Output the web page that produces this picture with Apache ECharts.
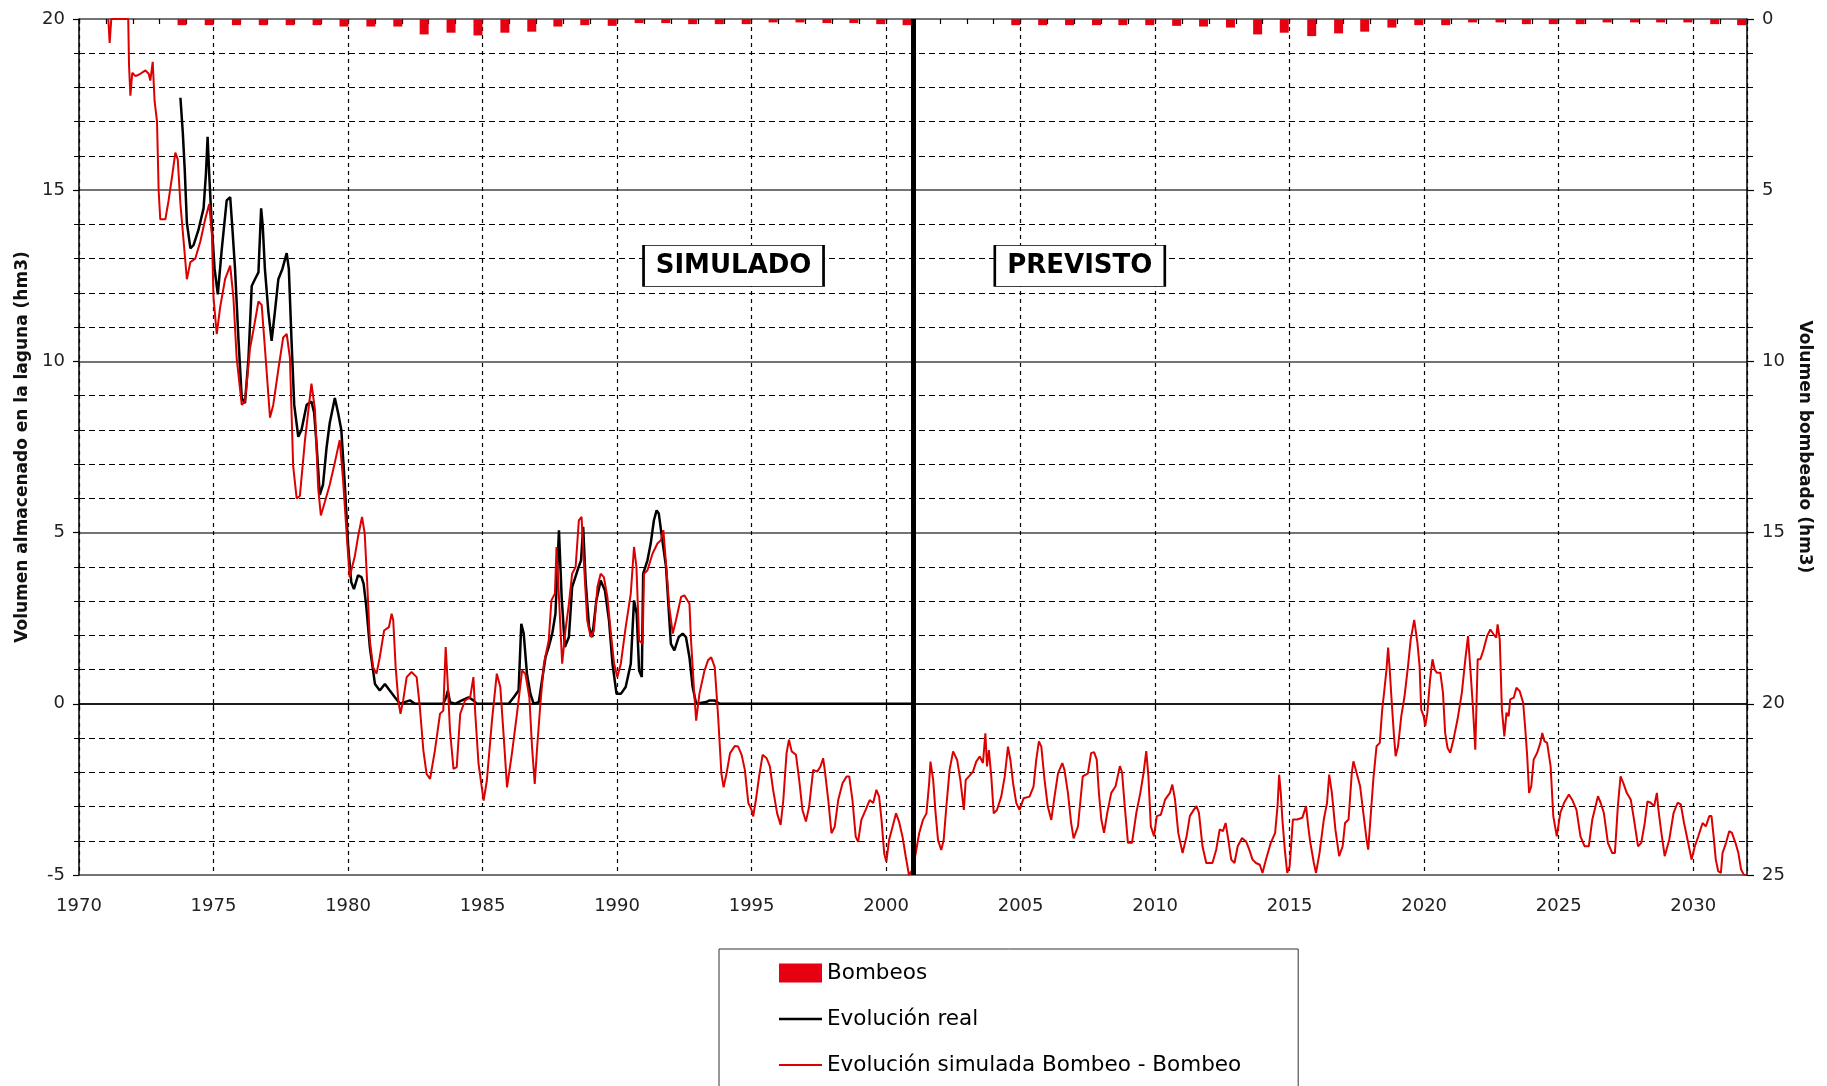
<!DOCTYPE html>
<html>
<head>
<meta charset="utf-8">
<script src="https://cdn.jsdelivr.net/npm/echarts@6/dist/echarts.min.js"></script>
<style>
html,body{margin:0;padding:0;background:#fff;}
#chart{width:1827px;height:1086px;}
</style>
</head>
<body>
<div id="chart"></div>
<script>
// ---- Data ----
const xTickLabels = [1970,1975,1980,1985,1990,1995,2000,2005,2010,2015,2020,2025,2030];
const leftTicks = [-5,0,5,10,15,20];
const rightTicks = [0,5,10,15,20,25];

// Simulated evolution (red), decimal year / hm3
const simYears = [
1971.09,1971.14,1971.2,1971.83,1971.86,1971.91,1971.98,1972.1,1972.28,1972.47,1972.59,1972.65,1972.74,1972.81,1972.9,1972.96,
1973.02,1973.21,1973.33,1973.46,1973.58,1973.67,1973.77,1973.89,1974.01,1974.14,1974.32,1974.51,1974.69,1974.84,1974.94,
1975.0,1975.12,1975.25,1975.43,1975.62,1975.74,1975.86,1976.05,1976.17,1976.36,1976.48,1976.67,1976.79,1976.91,
1977.1,1977.22,1977.41,1977.59,1977.72,1977.84,1977.96,1978.09,1978.21,1978.4,1978.64,1978.77,1978.89,1978.99,
1979.14,1979.32,1979.51,1979.69,1979.81,1979.94,1980.06,1980.25,1980.37,1980.52,1980.62,1980.72,1980.81,1980.93,
1981.06,1981.18,1981.34,1981.52,1981.62,1981.68,1981.77,1981.87,1981.95,1982.05,1982.18,1982.36,1982.55,1982.67,1982.8,1982.92,
1983.05,1983.23,1983.42,1983.54,1983.63,1983.7,1983.79,1983.92,1984.04,1984.17,1984.35,1984.54,1984.66,1984.73,1984.85,
1985.04,1985.16,1985.35,1985.53,1985.66,1985.78,1985.91,1986.09,1986.28,1986.47,1986.59,1986.74,1986.84,1986.94,
1987.03,1987.15,1987.28,1987.46,1987.56,1987.69,1987.75,1987.84,1987.96,1988.08,1988.21,1988.33,1988.46,1988.58,1988.68,1988.77,1988.89,
1989.02,1989.14,1989.27,1989.39,1989.51,1989.64,1989.76,1989.89,1990.01,1990.14,1990.32,1990.51,1990.63,1990.72,1990.82,1990.95,
1991.0,1991.13,1991.32,1991.5,1991.63,1991.72,1991.82,1991.94,1992.07,1992.19,1992.38,1992.5,1992.69,1992.75,1992.87,1992.94,
1993.06,1993.25,1993.38,1993.5,1993.63,1993.75,1993.88,1993.96,1994.07,1994.2,1994.38,1994.5,1994.63,1994.75,1994.88,
1995.0,1995.06,1995.16,1995.28,1995.41,1995.56,1995.68,1995.8,1995.95,1996.08,1996.18,1996.3,1996.39,1996.49,1996.65,1996.77,1996.89,
1997.02,1997.14,1997.29,1997.44,1997.56,1997.66,1997.72,1997.85,1997.97,1998.09,1998.22,1998.38,1998.53,1998.63,1998.75,1998.87,1998.96,
1999.08,1999.24,1999.39,1999.52,1999.64,1999.74,1999.83,1999.93,2000.01,2000.11,2000.24,2000.37,2000.48,2000.61,2000.73,2000.85,2000.98,
2001.1,2001.23,2001.37,2001.5,2001.6,2001.65,2001.75,2001.84,2001.93,2002.05,2002.14,2002.24,2002.36,2002.49,2002.64,2002.76,2002.89,2002.96,
2003.08,2003.23,2003.35,2003.48,2003.6,2003.69,2003.75,2003.82,2003.91,2004.0,2004.12,2004.28,2004.41,2004.53,2004.62,2004.72,2004.84,2004.96,
2005.11,2005.33,2005.48,2005.58,2005.68,2005.77,2005.89,2006.01,2006.14,2006.26,2006.39,2006.55,2006.63,2006.76,2006.88,2006.97,
2007.13,2007.31,2007.5,2007.62,2007.73,2007.83,2007.91,2008.0,2008.1,2008.22,2008.37,2008.53,2008.69,2008.77,2008.87,2008.99,
2009.14,2009.3,2009.45,2009.57,2009.67,2009.75,2009.84,2009.96,2010.06,2010.21,2010.37,2010.55,2010.64,2010.74,2010.86,
2011.02,2011.17,2011.29,2011.44,2011.54,2011.63,2011.76,2011.9,2012.13,2012.27,2012.4,2012.52,2012.62,2012.7,2012.83,2012.95,
2013.07,2013.23,2013.38,2013.5,2013.62,2013.75,2013.89,2013.99,2014.12,2014.3,2014.46,2014.55,2014.61,2014.67,2014.73,2014.82,2014.91,
2015.0,2015.12,2015.28,2015.47,2015.61,2015.69,2015.77,2015.9,2015.98,2016.11,2016.27,2016.39,2016.47,2016.57,2016.7,2016.84,2016.97,
2017.06,2017.19,2017.31,2017.37,2017.49,2017.62,2017.74,2017.86,2017.92,2018.02,2018.11,2018.23,2018.35,2018.44,2018.51,2018.6,2018.66,2018.72,2018.78,2018.88,2018.94,
2019.03,2019.15,2019.27,2019.4,2019.5,2019.63,2019.75,2019.83,2019.89,2019.98,2020.04,2020.12,2020.22,2020.31,2020.39,2020.47,2020.6,2020.7,2020.78,2020.87,2020.97,
2021.09,2021.24,2021.4,2021.53,2021.63,2021.71,2021.81,2021.9,2021.99,2022.09,2022.21,2022.34,2022.46,2022.58,2022.68,2022.73,2022.81,2022.89,2022.98,
2023.06,2023.14,2023.2,2023.33,2023.43,2023.55,2023.68,2023.76,2023.83,2023.9,2023.98,2024.07,2024.2,2024.32,2024.39,2024.47,2024.57,2024.7,2024.8,2024.93,
2025.06,2025.2,2025.38,2025.5,2025.66,2025.81,2025.96,2026.12,2026.25,2026.37,2026.46,2026.56,2026.68,2026.83,2026.99,
2027.09,2027.2,2027.3,2027.4,2027.53,2027.68,2027.8,2027.95,2028.07,2028.2,2028.3,2028.42,2028.55,2028.65,2028.7,2028.8,2028.94,
2029.11,2029.27,2029.42,2029.54,2029.66,2029.79,2029.94,2030.06,2030.19,2030.35,2030.47,2030.6,2030.68,2030.76,2030.84,2030.93,
2031.03,2031.09,2031.22,2031.34,2031.44,2031.57,2031.68,2031.78,2031.88,2031.97];
const simVals = [
20,19.3,20,20,18.64,17.76,18.43,18.33,18.4,18.5,18.4,18.2,18.75,17.6,17.0,15.0,
14.15,14.15,14.7,15.4,16.1,15.9,14.6,13.5,12.4,12.9,13.0,13.5,14.15,14.6,13.7,
11.86,10.8,11.6,12.4,12.8,11.86,10.1,8.73,8.83,10.4,10.9,11.75,11.65,10.4,
8.36,8.73,9.77,10.7,10.8,10.1,6.95,6.0,6.07,7.7,9.35,8.6,6.3,5.5,
5.9,6.4,7.05,7.7,6.6,5.07,3.7,4.3,4.87,5.46,4.97,3.41,1.85,1.07,
0.88,1.36,2.14,2.24,2.63,2.44,1.07,0.1,-0.29,0.1,0.78,0.93,0.78,-0.1,-1.36,-2.05,
-2.19,-1.36,-0.29,-0.2,1.66,0.68,-0.78,-1.9,-1.85,-0.29,0.1,0.19,0.78,-0.29,-1.75,
-2.83,-2.24,-0.49,0.88,0.49,-0.88,-2.44,-1.46,-0.29,0.97,0.88,0.19,-1.27,-2.34,
-1.27,0,1.17,1.85,3.02,3.22,4.58,3.12,1.17,2.14,2.92,3.8,4.0,5.36,5.46,4.09,2.44,
1.95,2.14,3.41,3.8,3.7,3.12,2.14,1.17,0.78,1.17,2.24,3.22,4.58,4.0,1.85,1.75,
3.8,3.9,4.39,4.68,4.78,5.07,4.09,2.83,2.05,2.44,3.12,3.17,2.92,1.85,0.29,-0.49,
0.29,0.97,1.27,1.36,1.07,-0.29,-2.05,-2.44,-2.03,-1.44,-1.23,-1.25,-1.49,-1.93,-2.9,
-3.1,-3.29,-2.81,-2.12,-1.49,-1.59,-1.83,-2.51,-3.2,-3.54,-2.81,-1.44,-1.05,-1.39,-1.49,-2.22,-3.1,
-3.44,-3.0,-1.93,-1.98,-1.83,-1.59,-1.93,-2.81,-3.78,-3.59,-2.81,-2.32,-2.12,-2.12,-2.81,-3.88,-4.03,
-3.39,-3.1,-2.81,-2.9,-2.51,-2.71,-3.39,-4.37,-4.61,-3.98,-3.59,-3.2,-3.44,-3.88,-4.46,-5.0,-4.85,
-4.37,-3.78,-3.39,-3.2,-2.32,-1.69,-2.22,-3.2,-3.98,-4.27,-3.98,-3.0,-1.93,-1.39,-1.64,-2.22,-3.1,-2.22,
-2.12,-1.98,-1.69,-1.54,-1.73,-0.86,-1.83,-1.35,-2.12,-3.2,-3.1,-2.71,-2.12,-1.25,-1.64,-2.32,-2.9,-3.1,
-2.76,-2.71,-2.42,-1.64,-1.1,-1.25,-2.22,-3.0,-3.39,-2.71,-2.03,-1.73,-1.93,-2.61,-3.49,-3.93,
-3.59,-2.12,-2.03,-1.44,-1.41,-1.63,-2.6,-3.38,-3.77,-3.19,-2.6,-2.41,-1.82,-2.0,-2.99,-4.06,
-4.06,-3.19,-2.6,-2.02,-1.38,-2.12,-3.58,-3.87,-3.28,-3.24,-2.8,-2.6,-2.36,-2.8,-3.77,
-4.36,-3.87,-3.28,-3.09,-2.99,-3.19,-4.16,-4.65,-4.65,-4.26,-3.67,-3.72,-3.48,-3.87,-4.55,-4.65,
-4.16,-3.92,-4.02,-4.26,-4.55,-4.65,-4.7,-4.94,-4.55,-4.06,-3.77,-2.99,-2.07,-2.6,-3.38,-4.26,-4.94,
-4.75,-3.38,-3.38,-3.33,-2.99,-3.58,-4.06,-4.65,-4.94,-4.36,-3.38,-2.89,-2.07,-2.6,-3.67,-4.45,-4.16,
-3.48,-3.38,-2.02,-1.68,-2.02,-2.41,-3.19,-3.97,-4.26,-3.19,-2.21,-1.24,-1.14,-0.17,0.32,1.0,1.64,1.0,0.22,-0.95,-1.53,
-1.24,-0.36,0.22,1.1,1.88,2.45,1.78,1.1,-0.17,-0.36,-0.65,-0.26,0.71,1.3,1.0,0.91,0.91,0.32,-0.85,-1.29,-1.43,
-1.04,-0.46,0.32,1.3,1.98,1.1,-0.07,-1.34,1.3,1.3,1.59,1.98,2.17,2.03,1.93,2.32,1.88,-0.17,-0.95,
-0.26,-0.36,0.13,0.18,0.47,0.37,0.03,-0.75,-1.53,-2.6,-2.41,-1.63,-1.43,-1.14,-0.85,-1.09,-1.14,-1.82,-3.28,-3.87,
-3.19,-2.89,-2.65,-2.8,-3.09,-3.87,-4.16,-4.16,-3.38,-2.99,-2.7,-2.89,-3.19,-4.06,-4.36,
-4.36,-2.99,-2.12,-2.31,-2.6,-2.8,-3.38,-4.16,-4.06,-3.48,-2.85,-2.89,-2.99,-2.6,-3.04,-3.67,-4.45,
-3.97,-3.19,-2.89,-2.94,-3.48,-3.97,-4.55,-4.16,-3.87,-3.48,-3.58,-3.28,-3.28,-3.87,-4.55,-4.89,
-4.94,-4.36,-4.06,-3.72,-3.77,-4.06,-4.36,-4.84,-4.99,-5.0];

// Real evolution (black)
const realYears = [
1973.77,1973.86,1973.93,1974.01,1974.14,1974.26,1974.44,1974.63,1974.72,1974.78,1974.85,1974.94,
1975.04,1975.16,1975.31,1975.49,1975.62,1975.7,1975.8,1975.93,1976.05,1976.17,1976.3,1976.42,1976.54,1976.67,1976.77,1976.83,1976.91,
1977.04,1977.16,1977.28,1977.41,1977.56,1977.72,1977.8,1977.9,1978.0,1978.15,1978.27,1978.46,1978.64,1978.74,1978.83,1978.95,
1979.07,1979.2,1979.32,1979.51,1979.63,1979.75,1979.88,1980.0,1980.12,1980.22,1980.37,1980.5,1980.58,1980.68,1980.81,
1981.0,1981.18,1981.37,1981.55,1981.74,1981.93,1982.11,1982.3,1982.49,1983.54,1983.65,1983.71,1983.79,1983.98,
1984.23,1984.48,1984.66,1984.79,1985.97,1986.16,1986.34,1986.44,1986.53,1986.65,1986.78,1986.9,
1987.09,1987.21,1987.34,1987.46,1987.59,1987.71,1987.84,1987.94,1988.06,1988.21,1988.33,1988.53,1988.66,1988.74,1988.83,1988.96,
1989.08,1989.23,1989.39,1989.55,1989.7,1989.83,1989.98,1990.14,1990.32,1990.51,1990.63,1990.73,1990.82,1990.92,1990.97,
1991.13,1991.25,1991.37,1991.47,1991.55,1991.65,1991.82,1992.0,1992.13,1992.29,1992.44,1992.56,1992.69,1992.81,1992.94,
1993.31,1993.44,1993.62,1993.81,2001.0];
const realVals = [
17.7,16.66,15.6,14.05,13.3,13.4,13.84,14.47,15.5,16.56,15.3,13.9,
12.7,11.96,13.3,14.7,14.8,13.9,12.7,10.6,8.93,8.78,10.1,12.2,12.4,12.6,14.47,13.95,12.7,
11.44,10.6,11.44,12.4,12.7,13.16,12.7,10.6,8.73,7.8,8.0,8.73,8.83,8.5,7.58,6.1,
6.4,7.47,8.2,8.93,8.5,8.0,6.4,4.66,3.55,3.35,3.75,3.7,3.5,2.83,1.66,
0.58,0.39,0.58,0.39,0.19,0.0,0.05,0.1,0.0,0.0,0.2,0.39,0.05,0.0,
0.1,0.19,0.1,0.0,0.0,0.19,0.39,2.34,2.05,0.88,0.29,0.0,
0.05,0.68,1.36,1.66,2.05,2.63,5.07,3.12,1.66,1.95,3.41,3.9,4.19,5.17,3.6,2.24,
1.95,3.02,3.6,3.31,2.44,1.17,0.29,0.29,0.49,1.17,3.02,2.63,0.97,0.78,3.8,
4.19,4.68,5.36,5.65,5.56,4.97,4.0,1.75,1.56,1.95,2.05,1.95,1.36,0.49,0.0,
0.05,0.1,0.1,0.0,0.0];

// Pumping (Bombeos), right axis (inverted), hm3
const pumpYears = [
1973.83,1974.84,1975.85,1976.85,1977.85,1978.85,1979.85,1980.85,1981.85,1982.83,1983.83,1984.83,1985.83,1986.83,
1987.8,1988.8,1989.82,1990.82,1991.81,1992.81,1993.8,1994.8,1995.8,1996.8,1997.8,1998.8,1999.8,2000.78,
2004.82,2005.82,2006.82,2007.82,2008.8,2009.8,2010.8,2011.8,2012.8,2013.81,2014.8,2015.82,2016.82,2017.79,
2018.8,2019.8,2020.8,2021.8,2022.82,2023.8,2024.8,2025.8,2026.8,2027.82,2028.79,2029.8,2030.8,2031.8];
const pumpVals = [
0.18,0.18,0.18,0.18,0.18,0.18,0.22,0.22,0.22,0.45,0.4,0.48,0.4,0.37,
0.22,0.18,0.2,0.12,0.12,0.15,0.15,0.15,0.1,0.1,0.12,0.12,0.15,0.18,
0.18,0.18,0.18,0.18,0.18,0.18,0.2,0.22,0.25,0.45,0.4,0.5,0.42,0.37,
0.25,0.18,0.18,0.1,0.1,0.15,0.15,0.15,0.1,0.1,0.1,0.1,0.15,0.18];

const zip = (xs, ys) => xs.map((x, i) => [x, ys[i]]);

const FONT = 'DejaVu Sans';
const chart = echarts.init(document.getElementById('chart'), null, {renderer: 'canvas'});

const option = {
  animation: false,
  backgroundColor: '#ffffff',
  grid: {left: 79, right: 80, top: 19, bottom: 211},
  xAxis: [{
    type: 'value', min: 1970, max: 2032, interval: 5, position: 'bottom',
    axisLine: {show: true, lineStyle: {color: '#000', width: 1.5}},
    axisTick: {show: true, length: 6, lineStyle: {color: '#000', width: 1.2}},
    axisLabel: {
      margin: 22, fontSize: 18, fontFamily: FONT, color: '#222',
      formatter: v => (xTickLabels.indexOf(Math.round(v)) >= 0 && Math.abs(v - Math.round(v)) < 1e-6) ? String(Math.round(v)) : ''
    },
    splitLine: {show: true, lineStyle: {color: '#000', width: 1.2, type: [4, 4]}}
  }, {
    type: 'value', min: 1970, max: 2032, interval: 1, position: 'bottom',
    axisLine: {show: false},
    axisTick: {show: true, length: 5, lineStyle: {color: '#000', width: 1.2}},
    axisLabel: {show: false},
    splitLine: {show: false}
  }],
  yAxis: [{
    type: 'value', min: leftTicks[0], max: leftTicks[leftTicks.length - 1], interval: 5, position: 'left',
    name: 'Volumen almacenado en la laguna (hm3)', nameLocation: 'middle', nameGap: 47, nameRotate: 90,
    nameTextStyle: {fontSize: 17, fontWeight: 'bold', fontFamily: FONT, color: '#111'},
    axisLine: {show: true, lineStyle: {color: '#000', width: 1.5}},
    axisTick: {show: true, length: 6, lineStyle: {color: '#000', width: 1.2}},
    minorTick: {show: true, splitNumber: 5, length: 5, lineStyle: {color: '#000', width: 1}},
    axisLabel: {margin: 14, fontSize: 18, fontFamily: FONT, color: '#222'},
    splitLine: {show: true, lineStyle: {color: '#444', width: 1.6, type: 'solid'}},
    minorSplitLine: {show: true, lineStyle: {color: '#000', width: 1.2, type: [6, 4]}}
  }, {
    type: 'value', min: rightTicks[0], max: rightTicks[rightTicks.length - 1], interval: 5, inverse: true, position: 'right',
    name: 'Volumen bombeado (hm3)', nameLocation: 'middle', nameGap: 45, nameRotate: -90,
    nameTextStyle: {fontSize: 17, fontWeight: 'bold', fontFamily: FONT, color: '#111'},
    axisLine: {show: true, lineStyle: {color: '#000', width: 1.5}},
    axisTick: {show: true, length: 7, lineStyle: {color: '#000', width: 1.2}},
    minorTick: {show: true, splitNumber: 5, length: 6, lineStyle: {color: '#000', width: 1}},
    axisLabel: {margin: 15, fontSize: 18, fontFamily: FONT, color: '#222'},
    splitLine: {show: false}
  }],
  legend: {
    orient: 'vertical', left: 719, top: 949, height: 220,
    padding: [13, 57, 40, 60],
    itemWidth: 43, itemHeight: 19, itemGap: 24,
    symbolKeepAspect: true,
    borderColor: '#333', borderWidth: 1, backgroundColor: '#fff',
    textStyle: {fontSize: 21.5, fontFamily: FONT, color: '#000'},
    data: [
      {name: 'Bombeos', icon: 'rect'},
      {name: 'Evolución real', icon: 'path://M0,0h43v2.5h-43z'},
      {name: 'Evolución simulada Bombeo - Bombeo', icon: 'path://M0,0h43v2h-43z'}
    ]
  },
  series: [{
    name: 'Bombeos', type: 'bar', xAxisIndex: 0, yAxisIndex: 1,
    barWidth: 9,
    itemStyle: {color: '#e60012'},
    data: zip(pumpYears, pumpVals)
  }, {
    name: 'Evolución real', type: 'line', xAxisIndex: 0, yAxisIndex: 0,
    symbol: 'none', showSymbol: false,
    lineStyle: {color: '#000', width: 2.5},
    itemStyle: {color: '#000'},
    data: zip(realYears, realVals),
    markPoint: {
      silent: true,
      symbol: 'rect',
      itemStyle: {color: '#fff', borderColor: '#000', borderWidth: 1.3},
      label: {show: true, position: 'inside', formatter: '{b}', color: '#000', fontSize: 26, fontWeight: 'bold', fontFamily: FONT},
      data: [
        {name: 'SIMULADO', coord: [1994.33, 12.79], symbolSize: [180, 41]},
        {name: 'PREVISTO', coord: [2007.2, 12.79], symbolSize: [170, 41]}
      ]
    }
  }, {
    name: 'Evolución simulada Bombeo - Bombeo', type: 'line', xAxisIndex: 0, yAxisIndex: 0,
    symbol: 'none', showSymbol: false,
    lineStyle: {color: '#dd0000', width: 2},
    itemStyle: {color: '#dd0000'},
    data: zip(simYears, simVals),
    markLine: {
      silent: true, symbol: ['none', 'none'],
      label: {show: false},
      lineStyle: {color: '#000', width: 5, type: 'solid'},
      data: [{xAxis: 2001}]
    }
  }]
};
chart.setOption(option);
</script>
</body>
</html>
